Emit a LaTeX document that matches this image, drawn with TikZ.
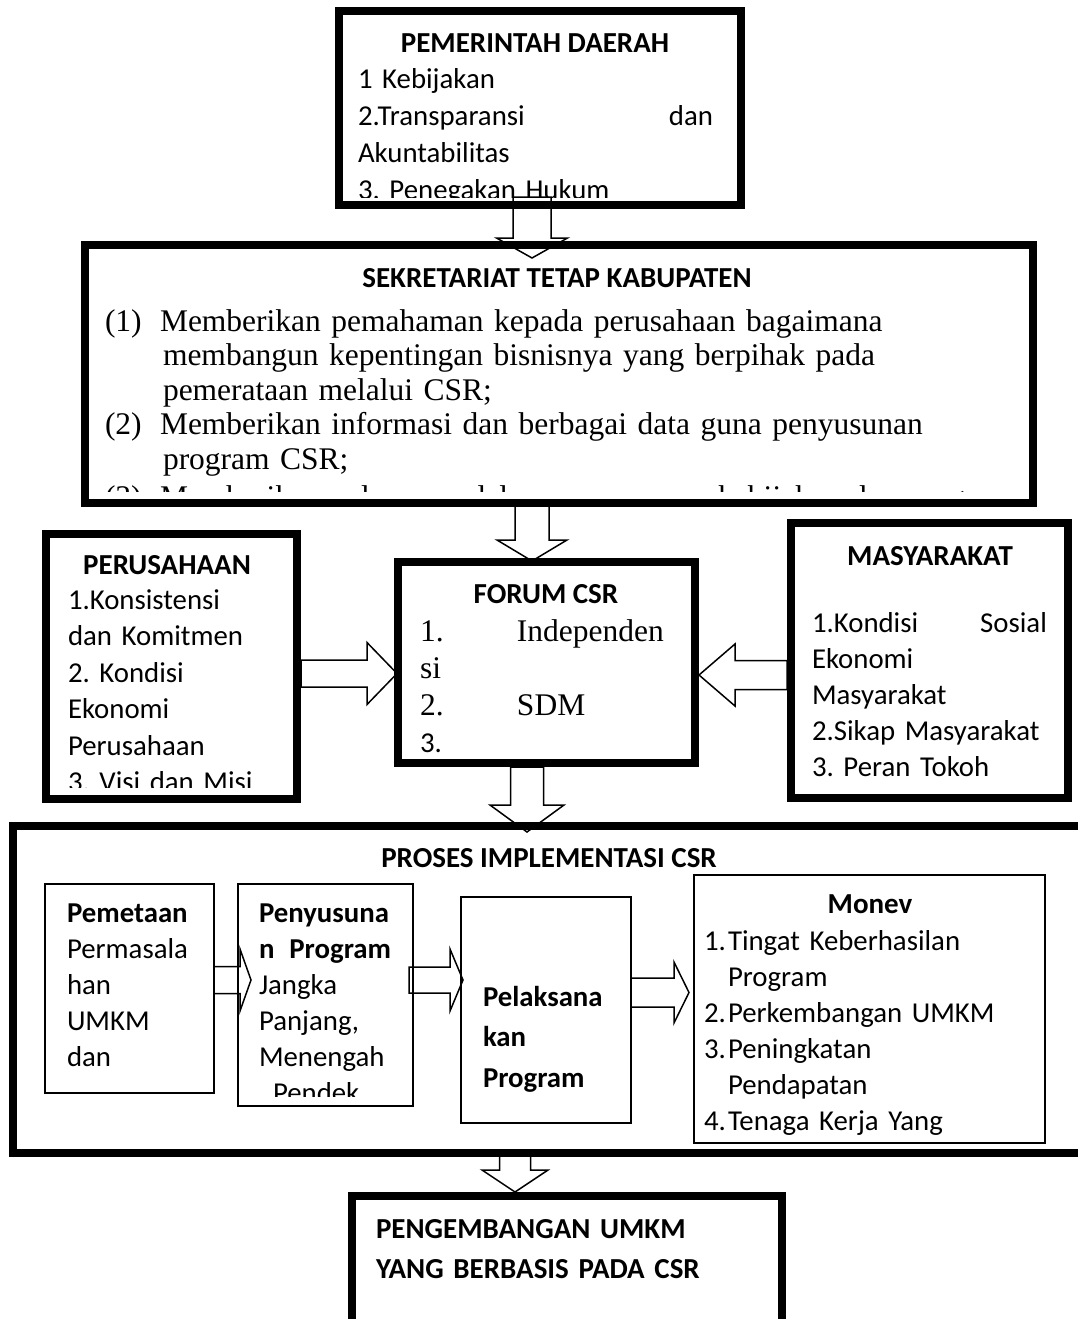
\documentclass[tikz,border=0pt]{standalone}
\usepackage{fontspec}
\setmainfont{Carlito}
\newfontfamily\tnr{Liberation Serif}
\newfontfamily\calfont{Carlito}
\usetikzlibrary{calc,backgrounds}
\frenchspacing
\newcommand\fsz[2]{\fontsize{#1pt}{#2pt}\selectfont\lineskiplimit=-100pt\lineskip=0pt\frenchspacing\relax}
\newcommand\fr{\rule{0pt}{24pt}}
\newcommand\varrowblk[5]{%
  \draw[blk] let \p1=(#1), \p2=(#2) in
    ({\x1-#3},{\y1}) -- ({\x1+#3},{\y1}) -- ({\x1+#3},{\y2+#5}) -- ({\x1+#4},{\y2+#5})
    -- ({\x1},{\y2}) -- ({\x1-#4},{\y2+#5}) -- ({\x1-#3},{\y2+#5}) -- cycle;}
\newcommand\harrowblk[5]{%
  \draw[blk] let \p1=(#1), \p2=(#2) in
    ({\x1},{\y1+#3}) -- ({\x2-#5},{\y1+#3}) -- ({\x2-#5},{\y1+#4}) -- ({\x2},{\y1})
    -- ({\x2-#5},{\y1-#4}) -- ({\x2-#5},{\y1-#3}) -- ({\x1},{\y1-#3}) -- cycle;}
\begin{document}
\begin{tikzpicture}[x=1pt,y=-1pt,
  heavy/.style={draw, line width=8pt, inner sep=0pt, outer sep=0pt},
  light/.style={draw, line width=1.8pt, inner sep=0pt, outer sep=0pt},
  blk/.style={draw, fill=white, line width=1.5pt, line join=miter},
  ttl/.style={anchor=base, inner sep=0pt, outer sep=0pt, font=\fsz{29}{35}\bfseries},
  txt/.style={anchor=north west, inner sep=0pt, outer sep=0pt, align=left, text width=400pt},
]
\useasboundingbox (0,0) rectangle (1078,1319);
\clip (0,0) rectangle (1078,1319);

% boxes
\node[heavy, minimum width=402pt, minimum height=194pt] (pem) at (540,108) {};
\node[heavy, minimum width=948.5pt, minimum height=258pt] (sek) at (558.75,374) {};
\node[heavy, minimum width=297.5pt, minimum height=201pt] (forum) at (546.25,662.5) {};
\node[heavy, minimum width=251.5pt, minimum height=265pt] (per) at (171.25,666.5) {};
\node[heavy, minimum width=276.5pt, minimum height=275pt] (mas) at (929.25,660) {};
\node[heavy, minimum width=1087.5pt, minimum height=327pt] (proses) at (556.25,989.5) {};
\node[light, minimum width=169pt, minimum height=209pt] (pemet) at (129.5,988.5) {};
\node[light, minimum width=175pt, minimum height=222pt] (penyu) at (325.5,995) {};
\node[light, minimum width=170pt, minimum height=226pt] (pelak) at (546,1010) {};
\node[light, minimum width=351pt, minimum height=268pt] (monev) at (869.5,1009) {};
\node[heavy, minimum width=430.5pt, minimum height=149pt] (bot) at (566.75,1270) {};

% arrows
\begin{scope}[on background layer]
\varrowblk{$(pem.south)+(-8,-8)$}{$(sek.north)+(-26.75,13)$}{19pt}{35.5pt}{20pt}
\varrowblk{$(sek.south)+(-26.75,0)$}{$(forum.north)+(-14.25,-1)$}{17pt}{35pt}{21pt}
\varrowblk{$(forum.south)+(-19.25,4)$}{$(proses.north)+(-29.25,6)$}{16.5pt}{37pt}{27pt}
\varrowblk{$(proses.south)+(-41.25,0)$}{$(bot.north)+(-51.75,-3.5)$}{15.5pt}{33pt}{22pt}
\harrowblk{$(per.east)+(4,7)$}{$(forum.west)+(-0.5,11)$}{13.5pt}{31pt}{30pt}
\harrowblk{$(mas.west)+(-4,15)$}{$(forum.east)+(4,12.5)$}{14.5pt}{31pt}{-36pt}
\harrowblk{$(pemet.east)+(0,-8.5)$}{$(penyu.west)+(13,-15)$}{13.5pt}{31pt}{11pt}
\harrowblk{$(penyu.east)+(-4,-15)$}{$(pelak.west)+(2,-30)$}{13pt}{31pt}{13pt}
\harrowblk{$(pelak.east)+(0,-17.5)$}{$(monev.west)+(-5,-16.5)$}{14.5pt}{30.5pt}{15pt}
\end{scope}

% PEMERINTAH DAERAH
\node[ttl] (pemt) at (535,53) {PEMERINTAH DAERAH};
\begin{scope}
\clip (343,15) rectangle (737,197);
\node[txt, font=\fsz{28.8}{36.8}] (pemx) at (358,65) {\fr 1 Kebijakan\\
\makebox[355pt][l]{2.Transparansi\hfill dan}\\
Akuntabilitas\\
3. Penegakan Hukum};
\end{scope}

% SEKRETARIAT
\node[ttl] (sekt) at (557,287) {SEKRETARIAT TETAP KABUPATEN};
\begin{scope}
\clip (89,249) rectangle (1029,491);
\node[txt, text width=950pt, font=\tnr\fsz{31.5}{34.6}] (sekx) at (105,307) {\fr
\makebox[55pt][l]{(1)}Memberikan pemahaman kepada perusahaan bagaimana\\
\hspace*{58pt}membangun kepentingan bisnisnya yang berpihak pada\\
\hspace*{58pt}pemerataan melalui CSR;\\
\makebox[55pt][l]{(2)}Memberikan informasi dan berbagai data guna penyusunan\\
\hspace*{58pt}program CSR;\\[3pt]
\makebox[55pt][l]{(3)}Memberikan pelayanan dalam penyusunan kebijakan dan program};
\end{scope}

% FORUM CSR
\node[ttl] (forumt) at (546,603) {FORUM CSR};
\node[txt, font=\tnr\fsz{31.5}{37}] (forumx) at (420,617) {\fr
\makebox[97pt][l]{1.}Independen\\
si\\
\makebox[97pt][l]{2.}SDM\\
{\calfont\fontsize{28.8pt}{37pt}\selectfont 3.}};

% PERUSAHAAN
\node[ttl] (pert) at (167,574) {PERUSAHAAN};
\begin{scope}
\clip (50,538) rectangle (293,787);
\node[txt, font=\fsz{28.8}{36.5}] (perx) at (68,585) {\fr 1.Konsistensi\\
dan Komitmen\\
2. Kondisi\\
Ekonomi\\
Perusahaan\\
3. Visi dan Misi};
\end{scope}

% MASYARAKAT
\node[ttl] (mast) at (930,565) {MASYARAKAT};
\node[txt, font=\fsz{28.8}{36}] (masx) at (812,608) {\fr
\makebox[235pt][l]{1.Kondisi\hfill Sosial}\\
Ekonomi\\
Masyarakat\\
2.Sikap Masyarakat\\
3. Peran Tokoh};

% PROSES
\node[ttl] (prosest) at (549,867) {PROSES IMPLEMENTASI CSR};
\node[txt, font=\fsz{28.8}{36}] (pemetx) at (67,898) {\fr\textbf{Pemetaan}\\
Permasala\\
han\\
UMKM\\
dan};
\begin{scope}
\clip (239,885) rectangle (412,1096);
\node[txt, font=\fsz{28.8}{36}] (penyux) at (259,898) {\fr\textbf{Penyusuna}\\
\makebox[132pt][l]{\textbf{n\hfill Program}}\\
Jangka\\
Panjang,\\
Menengah\\
\hspace*{14pt}Pendek};
\end{scope}
\node[txt, font=\fsz{28.8}{40.5}\bfseries] (pelakx) at (483,982) {\fr Pelaksana\\
kan\\
Program};
\node[ttl] (monevt) at (870,913) {Monev};
\node[txt, font=\fsz{28.8}{36}] (monevx) at (704,926) {\fr
\makebox[24pt][l]{1.}Tingat Keberhasilan\\
\hspace*{24pt}Program\\
\makebox[24pt][l]{2.}Perkembangan UMKM\\
\makebox[24pt][l]{3.}Peningkatan\\
\hspace*{24pt}Pendapatan\\
\makebox[24pt][l]{4.}Tenaga Kerja Yang};

% bottom
\node[txt, font=\fsz{29}{39.5}\bfseries] (botx) at (376,1214.5) {\fr PENGEMBANGAN UMKM\\
YANG BERBASIS PADA CSR};
\end{tikzpicture}
\end{document}
